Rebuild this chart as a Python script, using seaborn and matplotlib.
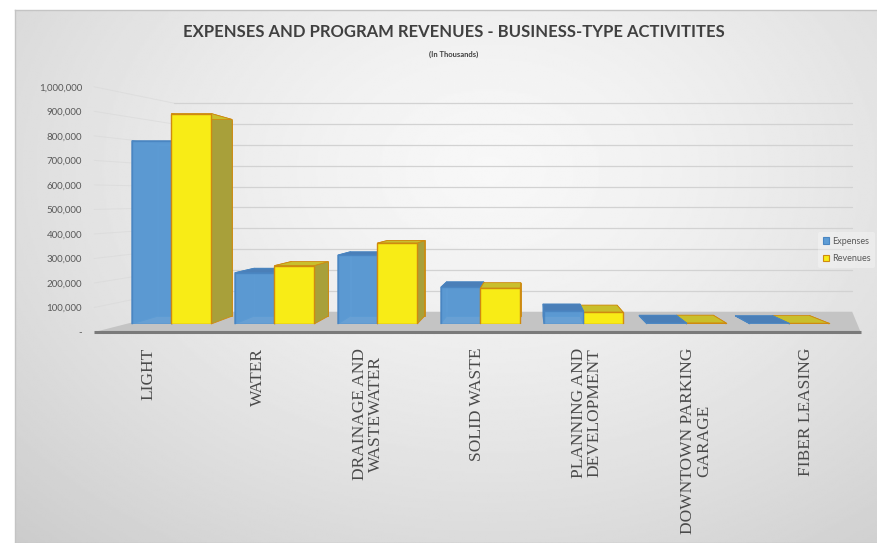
import numpy as np
import pandas as pd
import matplotlib
matplotlib.use("Agg")
import matplotlib.pyplot as plt
import seaborn as sns
from matplotlib.patches import Polygon, Patch
from matplotlib.ticker import FuncFormatter

# ---- data (in thousands of dollars) ----
categories = ["LIGHT", "WATER", "DRAINAGE AND\nWASTEWATER", "SOLID WASTE",
              "PLANNING AND\nDEVELOPMENT", "DOWNTOWN PARKING\nGARAGE", "FIBER LEASING"]
series_names = ["Expenses", "Revenues"]
expenses = [747000, 209000, 281000, 150000, 53000, 4000, 2000]
revenues = [858000, 238000, 330000, 146000, 48000, 4000, 2500]
y_ticks = list(range(0, 1_000_001, 100_000))

df = pd.DataFrame({
    "category": categories * 2,
    "series": [series_names[0]] * len(categories) + [series_names[1]] * len(categories),
    "value": expenses + revenues,
})

# ---- styling ----
BLUE, BLUE_EDGE, BLUE_SHADE = "#5E9DD6", "#4A86C2", "#4A7FB8"
YEL, YEL_EDGE, YEL_SIDE, YEL_TOP = "#F8EC16", "#CF8A10", "#A8A03A", "#C9BF2C"
TEXT = "#404040"
FACE = {0: dict(front=BLUE, edge=BLUE_EDGE, side=BLUE_SHADE, top=BLUE_SHADE, alpha=0.9),
        1: dict(front=YEL, edge=YEL_EDGE, side=YEL_SIDE, top=YEL_TOP, alpha=1.0)}

# pseudo-3D scene geometry, expressed in the bar axes' data units
VP = (3.48, 489_000)          # vanishing point of the columns
DEPTH = 0.066                 # column depth toward the vanishing point
LABEL_SPREAD = 0.0632         # front edge of the floor, relative to the columns
FLOOR_FRONT = -33_000
FLOOR_VPX, FLOOR_K = 5.98, 0.1156
WALL_BASE, WALL_SCALE = 50_000, 0.85

sns.set_theme(style="white")
plt.rcParams["font.family"] = ["Lato", "DejaVu Sans"]

W, H = 878, 543
fig = plt.figure(figsize=(W / 100, H / 100), dpi=100)
fig.patch.set_facecolor("white")

# soft grey backdrop of the chart area
bg = fig.add_axes([15 / W, 0, (W - 15) / W, (H - 10) / H], zorder=0)
yy, xx = np.mgrid[0:1:300j, 0:1:500j]
r = np.sqrt(((xx - 0.55) / 0.8) ** 2 + ((yy - 0.3) / 0.95) ** 2)
shade = np.clip(0.97 - 0.17 * r ** 1.4, 0, 1)
bg.imshow(shade, cmap="gray", vmin=0, vmax=1, aspect="auto", extent=[0, 1, 0, 1],
          interpolation="bilinear")
bg.set_xticks([]); bg.set_yticks([])
for s in bg.spines.values():
    s.set_color("#c4c4c4"); s.set_linewidth(1)

# columns
ax = fig.add_axes([120 / W, (H - 324) / H, 721 / W, 245.3 / H], zorder=2)
ax.set_facecolor("none")
sns.barplot(data=df, x="category", y="value", hue="series", order=categories,
            hue_order=series_names, palette=[BLUE, YEL], width=0.77, saturation=1,
            legend=False, ax=ax)
ax.set_xlim(-0.5, len(categories) - 0.5)
ax.set_ylim(0, 1_000_000)


def recede(x, y, t, vp=VP):
    return (x + (vp[0] - x) * t, y + (vp[1] - y) * t)


# floor
fl_front = [c + (c - VP[0]) * LABEL_SPREAD for c in (-0.5, len(categories) - 0.5)]
fl_back = [c + (FLOOR_VPX - c) * FLOOR_K for c in fl_front]
floor = Polygon([(fl_front[0], FLOOR_FRONT), (fl_front[1], FLOOR_FRONT),
                 (fl_back[1], WALL_BASE), (fl_back[0], WALL_BASE)],
                closed=True, facecolor="#c4c4c4", edgecolor="none", zorder=1, clip_on=False)
ax.add_patch(floor)
ax.plot(fl_front, [FLOOR_FRONT] * 2, color="#7a7a7a", lw=2.2, zorder=1.5,
        clip_on=False, solid_capstyle="butt")

# gridlines on the back wall and side wall
for v in y_ticks[1:]:
    wy = WALL_BASE + WALL_SCALE * v
    ax.plot([fl_back[0], fl_back[1]], [wy, wy], color="#d2d2d2", lw=0.9, zorder=0.8, clip_on=False)
    ax.plot([fl_front[0], fl_back[0]], [v + FLOOR_FRONT, wy], color="#d8d8d8", lw=0.7,
            alpha=0.6, zorder=0.8, clip_on=False)

# turn the flat bars into boxes
bars = []
for h_idx, cont in enumerate(ax.containers):
    for rect in cont.patches:
        bars.append((h_idx, rect))
bars.sort(key=lambda b: -abs(b[1].get_x() + b[1].get_width() / 2 - VP[0]))

for k, (h_idx, rect) in enumerate(bars):
    st = FACE[h_idx]
    x0, w, hgt = rect.get_x(), rect.get_width(), rect.get_height()
    x1 = x0 + w
    fl_b, fr_b, fr_t, fl_t = (x0, 0), (x1, 0), (x1, hgt), (x0, hgt)
    bl_b, br_b, br_t, bl_t = (recede(*p, DEPTH) for p in (fl_b, fr_b, fr_t, fl_t))
    z = 3 + 0.02 * k
    ax.add_patch(Polygon([bl_b, br_b, br_t, bl_t], facecolor=st["side"], edgecolor=st["edge"],
                         lw=0.6, zorder=z, clip_on=False))
    ax.add_patch(Polygon([fr_b, fr_t, br_t, br_b], facecolor=st["side"], edgecolor=st["edge"],
                         lw=0.6, zorder=z + 0.002, clip_on=False))
    ax.add_patch(Polygon([fl_b, fl_t, bl_t, bl_b], facecolor=st["side"], edgecolor=st["edge"],
                         lw=0.6, zorder=z + 0.002, clip_on=False))
    ax.add_patch(Polygon([fl_t, fr_t, br_t, bl_t], facecolor=st["top"], edgecolor=st["edge"],
                         lw=0.6, zorder=z + 0.004, clip_on=False))
    rect.set_facecolor(st["front"])
    rect.set_alpha(st["alpha"])
    rect.set_edgecolor(st["edge"])
    rect.set_linewidth(1.0)
    rect.set_zorder(z + 0.01)

# category labels along the front edge of the floor
label_pos = [i + (i - VP[0]) * LABEL_SPREAD for i in range(len(categories))]
ax.set_xticks(label_pos)
ax.set_xticklabels(categories, rotation=90, family="Liberation Serif", fontsize=12.5,
                   color="#4a4a4a", linespacing=1.0)
for t in ax.get_xticklabels():
    t.set_multialignment("center")
ax.tick_params(axis="x", length=0, pad=17)
ax.set_yticks([])
ax.set_xlabel(""); ax.set_ylabel("")
for s in ax.spines.values():
    s.set_visible(False)

# value axis labels at the front-left corner
lab = fig.add_axes([95 / W, (H - 332) / H, 0.001, 245.3 / H], zorder=1)
lab.set_facecolor("none")
lab.set_ylim(0, 1_000_000)
lab.set_yticks(y_ticks)
lab.yaxis.set_major_formatter(FuncFormatter(lambda v, p: "-" if v == 0 else f"{int(v):,}"))
lab.tick_params(axis="y", length=0, pad=9.4, labelsize=7, labelcolor="#595959")
lab.set_xticks([])
for s in lab.spines.values():
    s.set_visible(False)

# titles
fig.text(454 / W, 1 - 32 / H, "EXPENSES AND PROGRAM REVENUES - BUSINESS-TYPE ACTIVITITES",
         ha="center", va="center", fontsize=12, fontweight="bold", color=TEXT)
fig.text(454 / W, 1 - 54 / H, "(In Thousands)", ha="center", va="center",
         fontsize=5.5, fontweight="bold", color=TEXT)

# legend
handles = [Patch(facecolor=BLUE, edgecolor=BLUE_EDGE, lw=0.8),
           Patch(facecolor=YEL, edgecolor=YEL_EDGE, lw=0.8)]
leg = fig.legend(handles, series_names, loc="center left",
                 bbox_to_anchor=(818 / W, 1 - 250 / H), fontsize=6.5, frameon=True,
                 facecolor="white", edgecolor="none", framealpha=0.3,
                 handlelength=0.75, handleheight=0.75, handletextpad=0.3,
                 labelspacing=0.9, borderpad=0.5, borderaxespad=0)
for t in leg.get_texts():
    t.set_color("#595959")

fig.savefig("out.png", dpi=100)
